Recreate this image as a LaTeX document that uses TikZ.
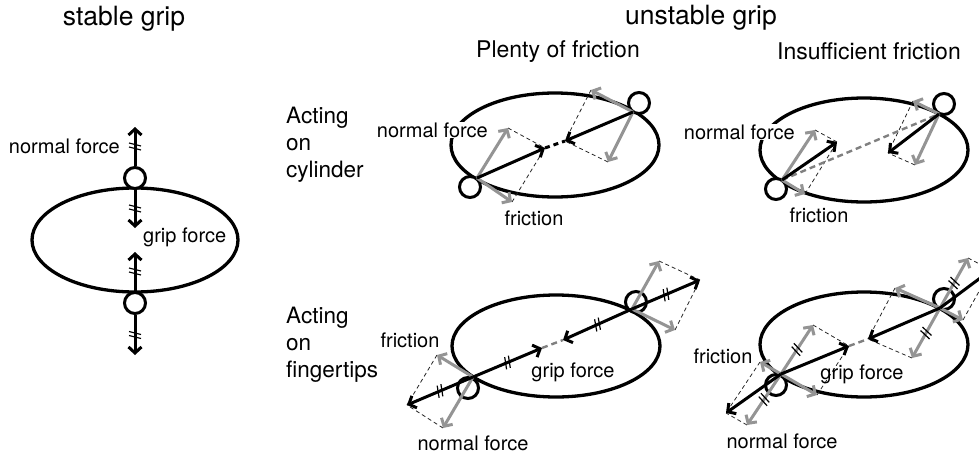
\documentclass[tikz,border=0pt]{standalone}
\usepackage{fontspec}
\setmainfont{TeX Gyre Heros}
\usetikzlibrary{arrows.meta,decorations.markings,calc}
\tikzset{
  body/.style={line width=3.3pt},
  finger/.style={circle,draw,line width=3pt,fill=white,minimum size=21pt,inner sep=0pt},
  tip/.style={-{Straight Barb[length=6pt,width=13pt]}},
  blk/.style={line width=3pt,tip},
  gry/.style={line width=3pt,tip,draw=black!42},
  aux/.style={line width=0.8pt,dash pattern=on 4pt off 3pt,draw=black!85},
  midk/.style={line width=3pt,dash pattern=on 5pt off 4pt},
  midg/.style={line width=2.4pt,dash pattern=on 6pt off 4pt,draw=black!50},
  ticks/.style={postaction={decorate},decoration={markings,mark=at position 0.5 with {\draw[-,solid,black,line width=1.2pt] (-3.5pt,-6pt)--(-0.5pt,6pt) (0.5pt,-6pt)--(3.5pt,6pt);}}},
  lab/.style={font=\fontsize{20}{23}\selectfont,inner sep=1pt},
  act/.style={font=\fontsize{22.5}{27}\selectfont,align=left,inner sep=0pt,anchor=west},
  ttl/.style={font=\fontsize{26.5}{30}\selectfont,inner sep=0pt},
  sub/.style={font=\fontsize{23}{27}\selectfont,inner sep=0pt},
}
\begin{document}
\begin{tikzpicture}[x=1pt,y=-1pt]
\useasboundingbox (0,0) rectangle (979,455);
\begin{scope}
\clip (0,0) rectangle (979,455);
% titles
\node[ttl] (t1) at (124,19) {stable grip};
\node[ttl] (t2) at (701,18) {unstable grip};
\node[sub] (t3) at (558,52) {Plenty of friction};
\node[sub] (t4) at (869,51) {Insufficient friction};
\node[act] (r1) at (286,145) {Acting\\on\\cylinder};
\node[act] (r2) at (286,345) {Acting\\on\\fingertips};

% ---------- stable grip
\draw[body] (135,240) ellipse [x radius=103pt, y radius=52pt];
\node[finger] (sf1) at (135,178) {};
\node[finger] (sf2) at (135,303) {};
\coordinate (st1) at (135,127);
\coordinate (se1) at (135,189);
\coordinate (st2) at (135,228);
\coordinate (se2) at (135,291);
\coordinate (st3) at (135,252);
\coordinate (st4) at (135,355);
\draw[blk,ticks] (sf1.north) -- (st1);
\draw[blk,ticks] (se1) -- (st2);
\draw[blk,ticks] (se2) -- (st3);
\draw[blk,ticks] (sf2.south) -- (st4);
\node[lab,anchor=east] (sl1) at (121,146) {normal force};
\node[lab,anchor=west] (sl2) at (142,237) {grip force};

% ---------- plenty, cylinder
\draw[body] (555,145) ellipse [x radius=104pt, y radius=52pt];
\node[finger] (pa) at (470,187) {};
\node[finger] (pb) at (639,103) {};
\coordinate (pA) at (477,178);
\coordinate (pB) at (633,112);
\coordinate (pAk) at (545,148);
\coordinate (pAn) at (508,128);
\coordinate (pAf) at (512,202);
\coordinate (pBk) at (565,141);
\coordinate (pBf) at (591,90);
\coordinate (pBn) at (608,162);
\draw[aux] (pAn) -- (pAk) (pAf) -- (pAk) (pBf) -- (pBk) (pBn) -- (pBk);
\draw[midk] (pAk) -- (pBk);
\draw[gry] (pA) -- (pAn);
\draw[gry] (pA) -- (pAf);
\draw[gry] (pB) -- (pBf);
\draw[gry] (pB) -- (pBn);
\draw[blk] (pA) -- (pAk);
\draw[blk] (pB) -- (pBk);
\node[lab,anchor=east,fill=white] (pl1) at (489,130) {normal force};
\node[lab] (pl2) at (534,218) {friction};

% ---------- insufficient, cylinder
\draw[body] (864,150) ellipse [x radius=104pt, y radius=52pt];
\node[finger] (ia) at (776,189) {};
\node[finger] (ib) at (944,104) {};
\coordinate (iA) at (782,180);
\coordinate (iB) at (939,114);
\coordinate (iAk) at (837,142);
\coordinate (iAn) at (815,130);
\coordinate (iAf) at (805,194);
\coordinate (iBk) at (888,153);
\coordinate (iBf) at (913,101);
\coordinate (iBn) at (915,165);
\draw[aux] (iAn) -- (iAk) (iAf) -- (iAk) (iBf) -- (iBk) (iBn) -- (iBk);
\draw[midg] (iA) -- (iB);
\draw[gry] (iA) -- (iAn);
\draw[gry] (iA) -- (iAf);
\draw[gry] (iB) -- (iBf);
\draw[gry] (iB) -- (iBn);
\draw[blk] (iA) -- (iAk);
\draw[blk] (iB) -- (iBk);
\node[lab,anchor=east,fill=white] (il1) at (796,132) {normal force};
\node[lab] (il2) at (819,215) {friction};

% ---------- plenty, fingertips
\draw[body] (556,346) ellipse [x radius=104pt, y radius=51pt];
\node[finger] (qa) at (468,388) {};
\node[finger] (qb) at (636,302) {};
\coordinate (qA) at (473,377);
\coordinate (qB) at (632,309);
\coordinate (qAl) at (407,405);
\coordinate (qAr) at (542,348);
\coordinate (qBl) at (563,340);
\coordinate (qBr) at (700,280);
\coordinate (qAf) at (437,355);
\coordinate (qAn) at (443,428);
\coordinate (qBn) at (659,261);
\coordinate (qBf) at (675,330);
\draw[aux] (qAf) -- (qAl) (qAn) -- (qAl) (qBn) -- (qBr) (qBf) -- (qBr);
\draw[midg] (qAr) -- (qBl);
\draw[gry] (qA) -- (qAf);
\draw[gry] (qA) -- (qAn);
\draw[gry] (qB) -- (qBn);
\draw[gry] (qB) -- (qBf);
\draw[blk,ticks] (qA) -- (qAl);
\draw[blk,ticks] (qA) -- (qAr);
\draw[blk,ticks] (qB) -- (qBl);
\draw[blk,ticks] (qB) -- (qBr);
\node[lab] (ql1) at (410,340) {friction};
\node[lab] (ql2) at (573,372) {grip force};
\node[lab] (ql3) at (473,443) {normal force};

% ---------- insufficient, fingertips
\draw[body] (864,344.5) ellipse [x radius=104pt, y radius=52.5pt];
\node[finger] (ja) at (776,385) {};
\node[finger] (jb) at (944,299) {};
\coordinate (jA) at (781,374);
\coordinate (jB) at (940,308);
\coordinate (jAl) at (726,413);
\coordinate (jAr) at (849,346);
\coordinate (jAnu) at (813,325);
\coordinate (jAnd) at (747,425);
\coordinate (jAfl) at (760,362);
\coordinate (jAfr) at (817,395);
\coordinate (jBl) at (868,339);
\coordinate (jBr) at (991,270);
\coordinate (jBnu) at (968,258);
\coordinate (jBnd) at (912,358);
\coordinate (jBfl) at (895,288);
\coordinate (jBfr) at (963,320);
\draw[aux] (jAnu) -- (jAr) (jAfr) -- (jAr) (jAfl) -- (jAl) (jAnd) -- (jAl)
           (jBnu) -- (jBr) (jBfr) -- (jBr) (jBfl) -- (jBl) (jBnd) -- (jBl);
\draw[midg] (jAr) -- (jBl);
\draw[gry,ticks] (jA) -- (jAnu);
\draw[gry,ticks] (jA) -- (jAnd);
\draw[gry] (jA) -- (jAfl);
\draw[gry] (jA) -- (jAfr);
\draw[gry,ticks] (jB) -- (jBnu);
\draw[gry,ticks] (jB) -- (jBnd);
\draw[gry] (jB) -- (jBfl);
\draw[gry] (jB) -- (jBfr);
\draw[blk] (jA) -- (jAl);
\draw[blk] (jA) -- (jAr);
\draw[blk] (jB) -- (jBl);
\draw[blk] (jB) -- (jBr);
\node[lab] (jl1) at (723,356) {friction};
\node[lab] (jl2) at (862,374) {grip force};
\node[lab] (jl3) at (782,441) {normal force};
\end{scope}
\end{tikzpicture}
\end{document}
